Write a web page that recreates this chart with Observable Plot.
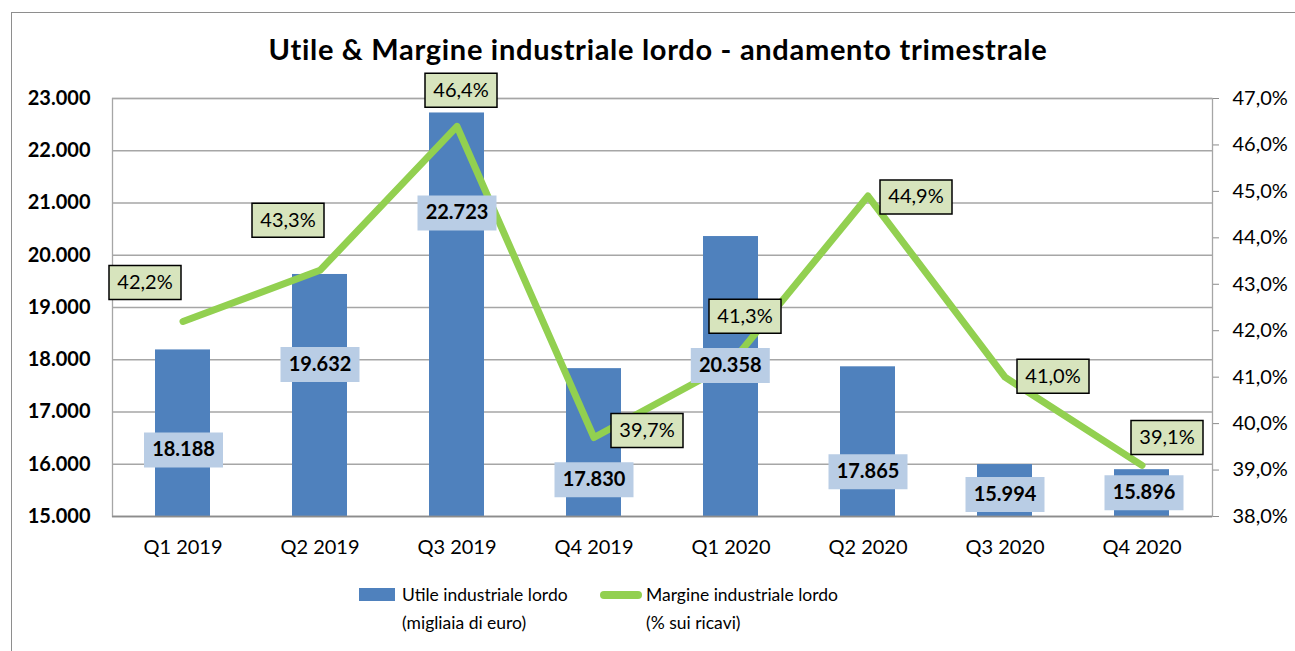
<!DOCTYPE html>
<html><head><meta charset="utf-8">
<script src="https://cdn.jsdelivr.net/npm/d3@7"></script>
<script src="https://cdn.jsdelivr.net/npm/@observablehq/plot@0.6"></script>
<style>
body{margin:0;background:#fff;font-family:Lato,sans-serif;}
#wrap{position:relative;width:1295px;height:651px;overflow:hidden;}
#border{position:absolute;left:11px;top:12px;width:1400px;height:800px;border:1.5px solid #8e8e8e;}
#title{position:absolute;left:0;width:1316px;top:34px;text-align:center;font-weight:bold;font-size:29px;letter-spacing:0.7px;line-height:1;color:#000;white-space:nowrap;}
#chart{position:absolute;left:0;top:60px;}
.leg{position:absolute;font-size:17.5px;line-height:28px;color:#000;white-space:nowrap;}
.sw{position:absolute;}
</style></head><body>
<div id="wrap">
<div id="border"></div>
<div id="title">Utile &amp; Margine industriale lordo - andamento trimestrale</div>
<div id="chart"></div>
<div id="legend"></div>
</div>
<script>
// ---- data ----
const quarters = ["Q1 2019","Q2 2019","Q3 2019","Q4 2019","Q1 2020","Q2 2020","Q3 2020","Q4 2020"];
const utile = [18188, 19632, 22723, 17830, 20358, 17865, 15994, 15896];
const margine = [42.2, 43.3, 46.4, 39.7, 41.3, 44.9, 41.0, 39.1];
const leftTicks = [15000,16000,17000,18000,19000,20000,21000,22000,23000];
const rightTicks = [38,39,40,41,42,43,44,45,46,47];
const seriesNames = [["Utile industriale lordo","(migliaia di euro)"],["Margine industriale lordo","(% sui ricavi)"]];

// ---- label placement (pixel offsets from anchor point; styling) ----
const barLabelOffsets = [[0.5,100],[0,90],[0,100],[0,111],[-0.7,129],[0,105],[0,30],[2,23]];
const lineLabelOffsets = [[-38,-39],[-32,-50],[4,-36],[53,-7],[14,-47],[48,1],[48,-1],[25,-28]];

// ---- styles ----
const BLUE = "#4F81BD", BLUE_LBL = "#B9CDE5", GREEN = "#92D050", GREEN_LBL = "#D7E4BD", GRID = "#a6a6a6";

const yMin = leftTicks[0], yMax = leftTicks[leftTicks.length-1];
const pMin = rightTicks[0], pMax = rightTicks[rightTicks.length-1];
const toY = p => yMin + (p - pMin) * (yMax - yMin) / (pMax - pMin);
const toP = v => pMin + (v - yMin) * (pMax - pMin) / (yMax - yMin);

const rows = quarters.map((q, i) => ({q, v: utile[i], p: margine[i], py: toY(margine[i])}));

const loc = d3.formatLocale({decimal: ",", thousands: ".", grouping: [3], currency: ["", "€"]});
const fInt = loc.format(",d");
const fPct = p => loc.format(".1f")(p) + "%";

const rectSym = (w, h) => ({draw(ctx) { ctx.rect(-w/2, -h/2, w, h); }});

const labelMarks = [];
rows.forEach((d, i) => {
  const [bdx, bdy] = barLabelOffsets[i];
  labelMarks.push(Plot.dot([d], {x: "q", y: "v", symbol: rectSym(79, 35), fill: BLUE_LBL, stroke: "none", dx: bdx, dy: bdy}));
  labelMarks.push(Plot.text([d], {x: "q", y: "v", text: r => fInt(r.v), dx: bdx, dy: bdy, fontWeight: "bold", fontSize: 20, fill: "#000"}));
});
rows.forEach((d, i) => {
  const [ldx, ldy] = lineLabelOffsets[i];
  labelMarks.push(Plot.dot([d], {x: "q", y: "py", symbol: rectSym(72, 34), fill: GREEN_LBL, stroke: "#000", strokeWidth: 1.5, dx: ldx, dy: ldy}));
  labelMarks.push(Plot.text([d], {x: "q", y: "py", text: r => fPct(r.p), dx: ldx, dy: ldy, fontSize: 20, fill: "#000"}));
});

const chart = Plot.plot({
  width: 1295, height: 500,
  marginLeft: 112, marginRight: 83, marginTop: 38, marginBottom: 44,
  style: {fontFamily: "Lato, sans-serif", fontSize: "20px", color: "#000", background: "transparent", overflow: "visible"},
  x: {type: "band", domain: quarters, paddingInner: 0.6, paddingOuter: 0.3},
  y: {domain: [yMin, yMax]},
  marks: [
    Plot.ruleY(leftTicks, {stroke: GRID, strokeWidth: 1.3}),
    Plot.barY(rows, {x: "q", y1: yMin, y2: "v", fill: BLUE}),
    Plot.frame({stroke: GRID, strokeWidth: 1.3}),
    Plot.ruleY([yMin], {stroke: "#8c8c8c", strokeWidth: 1.6}),
    Plot.line(rows, {x: "q", y: "py", stroke: GREEN, strokeWidth: 7, strokeLinecap: "round", strokeLinejoin: "round"}),
    ...labelMarks,
    Plot.axisY(leftTicks, {anchor: "left", tickSize: 0, tickPadding: 22, tickFormat: fInt, fontWeight: "bold", fontSize: 20, fill: "#000", label: null}),
    Plot.axisY(rightTicks.map(toY), {anchor: "right", tickSize: 6, tickPadding: 14, tickFormat: v => fPct(toP(v)), fontSize: 20, stroke: "#8c8c8c", fill: "#000", label: null}),
    Plot.axisX(quarters, {tickSize: 0, tickPadding: 23, fontSize: 20, fill: "#000", label: null})
  ]
});
document.getElementById("chart").appendChild(chart);

// ---- legend ----
const legend = document.getElementById("legend");
const swatches = [
  {left: 359, top: 588, w: 36, h: 13, bg: BLUE, r: 0, textLeft: 402},
  {left: 600, top: 591, w: 42, h: 8, bg: GREEN, r: 4, textLeft: 646}
];
seriesNames.forEach((lines, i) => {
  const s = swatches[i];
  const sw = document.createElement("div");
  sw.className = "sw";
  sw.style.cssText = `left:${s.left}px;top:${s.top}px;width:${s.w}px;height:${s.h}px;background:${s.bg};border-radius:${s.r}px;`;
  legend.appendChild(sw);
  const t = document.createElement("div");
  t.className = "leg";
  t.style.left = s.textLeft + "px";
  t.style.top = "581px";
  t.innerHTML = lines.join("<br>");
  legend.appendChild(t);
});
</script>
</body></html>
